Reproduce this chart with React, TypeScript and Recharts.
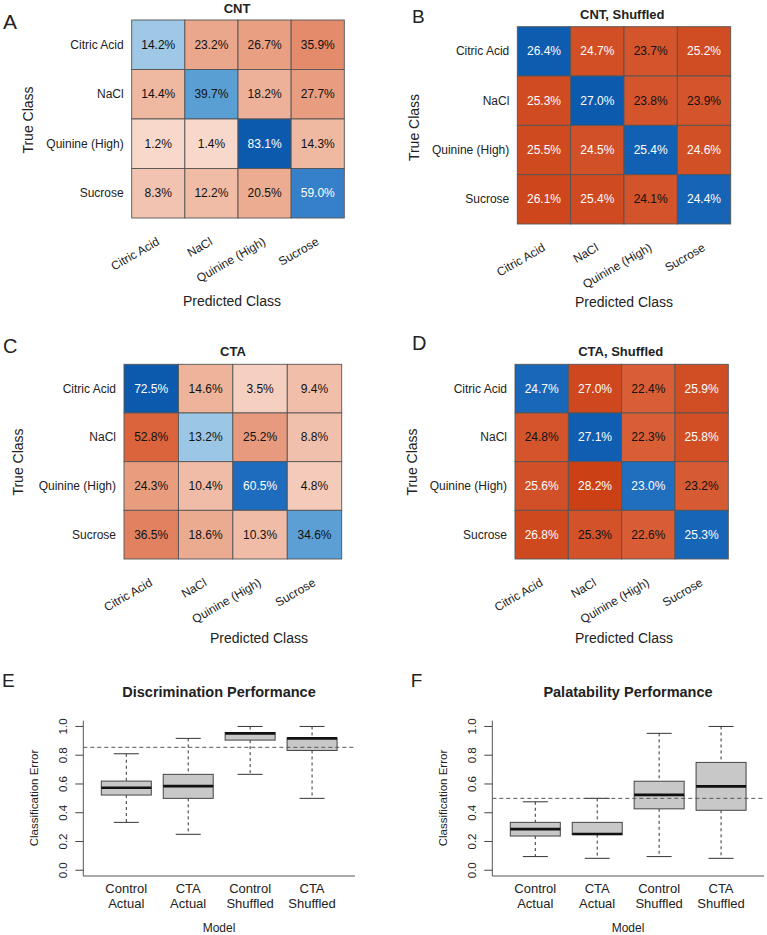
import React from 'react';
import { ScatterChart, Scatter, XAxis, YAxis, ComposedChart, Bar, ReferenceLine } from 'recharts';

const FONT = '"Liberation Sans", Arial, Helvetica, sans-serif';

// confusion matrices, rows = true class, cols = predicted class (%)
const tasteClasses = ['Citric Acid', 'NaCl', 'Quinine (High)', 'Sucrose'];
const cntActual = [
  [14.2, 23.2, 26.7, 35.9],
  [14.4, 39.7, 18.2, 27.7],
  [1.2, 1.4, 83.1, 14.3],
  [8.3, 12.2, 20.5, 59.0],
];
const cntShuffled = [
  [26.4, 24.7, 23.7, 25.2],
  [25.3, 27.0, 23.8, 23.9],
  [25.5, 24.5, 25.4, 24.6],
  [26.1, 25.4, 24.1, 24.4],
];
const ctaActual = [
  [72.5, 14.6, 3.5, 9.4],
  [52.8, 13.2, 25.2, 8.8],
  [24.3, 10.4, 60.5, 4.8],
  [36.5, 18.6, 10.3, 34.6],
];
const ctaShuffled = [
  [24.7, 27.0, 22.4, 25.9],
  [24.8, 27.1, 22.3, 25.8],
  [25.6, 28.2, 23.0, 23.2],
  [26.8, 25.3, 22.6, 25.3],
];

// boxplot summaries (whisker low, q1, median, q3, whisker high)
const models = ['Control Actual', 'CTA Actual', 'Control Shuffled', 'CTA Shuffled'];
const discLow = [0.333, 0.25, 0.667, 0.5];
const discQ1 = [0.523, 0.5, 0.905, 0.833];
const discMed = [0.574, 0.585, 0.952, 0.917];
const discQ3 = [0.62, 0.667, 0.958, 0.92];
const discHigh = [0.81, 0.917, 1.0, 1.0];
const discChance = 0.855;

const palLow = [0.095, 0.083, 0.095, 0.083];
const palQ1 = [0.238, 0.248, 0.427, 0.417];
const palMed = [0.286, 0.252, 0.524, 0.583];
const palQ3 = [0.333, 0.333, 0.619, 0.75];
const palHigh = [0.476, 0.5, 0.952, 1.0];
const palChance = 0.5;

const yTicks = [0, 0.2, 0.4, 0.6, 0.8, 1.0];

// colour ramps (t = value / matrix max)
const redStops: [number, string][] = [
  [0, '#f8dcd0'], [0.1, '#f2c3b0'], [0.28, '#eaa78b'], [0.43, '#e48b6b'],
  [0.73, '#dc643c'], [0.88, '#d4552c'], [1, '#cc4016'],
];
const blueStops: [number, string][] = [
  [0, '#d8e9f6'], [0.17, '#9ec8e6'], [0.48, '#5a9fd4'], [0.71, '#3580c8'],
  [0.83, '#1d6cbd'], [1, '#0c5aae'],
];

const hex = (h: string) => [1, 3, 5].map((i) => parseInt(h.slice(i, i + 2), 16));
const ramp = (stops: [number, string][], t: number) => {
  const tt = Math.max(0, Math.min(1, t));
  for (let i = 1; i < stops.length; i++) {
    if (tt <= stops[i][0]) {
      const [t0, c0] = stops[i - 1];
      const [t1, c1] = stops[i];
      const f = (tt - t0) / (t1 - t0 || 1);
      const a = hex(c0), b = hex(c1);
      return `rgb(${a.map((v, k) => Math.round(v + (b[k] - v) * f)).join(',')})`;
    }
  }
  return stops[stops.length - 1][1];
};

type Box = { x0: number; x1: number; y0: number; y1: number };
type Frame = { left: number; top: number; width: number; height: number };

const Heatmap = ({ values, frame, box }: { values: number[][]; frame: Frame; box: Box }) => {
  const n = tasteClasses.length;
  const max = Math.max(...values.flat());
  const cells = values.flatMap((row, i) =>
    row.map((v, j) => ({ col: j + 0.5, row: i + 0.5, value: v, diag: i === j, t: v / max }))
  );
  const cw = (box.x1 - box.x0) / n;
  const ch = (box.y1 - box.y0) / n;
  const ticks = tasteClasses.map((_, i) => i + 0.5);
  const nameOf = (v: number) => tasteClasses[Math.floor(v)] ?? '';

  const renderCell = (p: any) => {
    const { cx, cy, payload } = p;
    const fill = payload.diag ? ramp(blueStops, payload.t) : ramp(redStops, payload.t);
    const white = payload.diag ? payload.t > 0.6 : payload.t > 0.9;
    return (
      <g>
        <rect x={cx - cw / 2} y={cy - ch / 2} width={cw} height={ch} fill={fill} stroke="#555" strokeWidth={0.9} />
        <text x={cx} y={cy} textAnchor="middle" dominantBaseline="central" fontSize={12} fill={white ? '#fff' : '#111'} fontFamily={FONT}>
          {payload.value.toFixed(1)}%
        </text>
      </g>
    );
  };

  return (
    <div style={{ position: 'absolute', left: frame.left, top: frame.top }}>
      <ScatterChart
        width={frame.width}
        height={frame.height}
        margin={{ top: box.y0 - frame.top, right: frame.left + frame.width - box.x1, bottom: 0, left: 0 }}
      >
        <XAxis
          type="number"
          dataKey="col"
          domain={[0, n]}
          ticks={ticks}
          interval={0}
          axisLine={false}
          tickLine={false}
          tickSize={0}
          tickMargin={0}
          height={frame.top + frame.height - box.y1}
          tick={(p: any) => {
            const x = p.x + 2;
            const y = p.y + 26;
            return (
              <text x={x} y={y} textAnchor="end" fontSize={12} fill="#222" fontFamily={FONT} transform={`rotate(-30 ${x} ${y})`}>
                {nameOf(p.payload.value)}
              </text>
            );
          }}
        />
        <YAxis
          type="number"
          dataKey="row"
          domain={[0, n]}
          reversed
          ticks={ticks}
          interval={0}
          axisLine={false}
          tickLine={false}
          tickSize={0}
          tickMargin={0}
          width={box.x0 - frame.left}
          tick={(p: any) => (
            <text x={p.x - 8} y={p.y} textAnchor="end" dominantBaseline="central" fontSize={12} fill="#222" fontFamily={FONT}>
              {nameOf(p.payload.value)}
            </text>
          )}
        />
        <Scatter data={cells} shape={renderCell} isAnimationActive={false} />
      </ScatterChart>
    </div>
  );
};

const BoxShape = (p: any) => {
  const { x, y, width, height, payload } = p;
  const top = Math.min(y, y + height);
  const bottom = Math.max(y, y + height);
  const py = (v: number) => bottom - ((bottom - top) * (v - payload.low)) / (payload.high - payload.low || 1);
  const cx = x + width / 2;
  const cap = width / 4;
  return (
    <g>
      <line x1={cx} x2={cx} y1={py(payload.high)} y2={py(payload.q3)} stroke="#333" strokeDasharray="3 3" />
      <line x1={cx} x2={cx} y1={py(payload.q1)} y2={py(payload.low)} stroke="#333" strokeDasharray="3 3" />
      <line x1={cx - cap} x2={cx + cap} y1={py(payload.high)} y2={py(payload.high)} stroke="#333" />
      <line x1={cx - cap} x2={cx + cap} y1={py(payload.low)} y2={py(payload.low)} stroke="#333" />
      <rect x={x} y={py(payload.q3)} width={width} height={py(payload.q1) - py(payload.q3)} fill="#c8c8c8" stroke="#444" />
      <line x1={x} x2={x + width} y1={py(payload.med)} y2={py(payload.med)} stroke="#111" strokeWidth={2.6} />
    </g>
  );
};

const BoxPlot = ({ data, chance, frame, box }: { data: any[]; chance: number; frame: Frame; box: Box }) => (
  <div style={{ position: 'absolute', left: frame.left, top: frame.top }}>
    <ComposedChart
      width={frame.width}
      height={frame.height}
      data={data}
      margin={{ top: box.y0 - frame.top, right: frame.left + frame.width - box.x1, bottom: 0, left: 0 }}
    >
      <XAxis
        dataKey="model"
        type="category"
        padding={{ left: 12, right: 12 }}
        interval={0}
        tickLine={false}
        tickSize={0}
        tickMargin={0}
        axisLine={{ stroke: '#555' }}
        height={frame.top + frame.height - box.y1}
        tick={(p: any) => {
          const [a, b] = String(p.payload.value).split(' ');
          return (
            <text x={p.x} y={p.y} textAnchor="middle" fontSize={13} fill="#222" fontFamily={FONT}>
              <tspan x={p.x} dy={16.6}>{a}</tspan>
              <tspan x={p.x} dy={15.6}>{b}</tspan>
            </text>
          );
        }}
      />
      <XAxis xAxisId="top" dataKey="model" orientation="top" height={0} tick={false} tickLine={false} axisLine={{ stroke: '#555' }} />
      <YAxis
        type="number"
        domain={[-0.04, 1.04]}
        ticks={yTicks}
        interval={0}
        allowDataOverflow
        width={box.x0 - frame.left}
        tickSize={8}
        tickMargin={0}
        tickLine={{ stroke: '#444' }}
        axisLine={{ stroke: '#555' }}
        tick={(p: any) => {
          const x = p.x - 8.7;
          return (
            <text x={x} y={p.y} textAnchor="middle" fontSize={11.5} fill="#222" fontFamily={FONT} transform={`rotate(-90 ${x} ${p.y})`}>
              {Number(p.payload.value).toFixed(1)}
            </text>
          );
        }}
      />
      <YAxis yAxisId="right" orientation="right" width={0} tick={false} tickLine={false} axisLine={{ stroke: '#555' }} />
      <Bar dataKey={(d: any) => [d.low, d.high]} barSize={50} shape={BoxShape} isAnimationActive={false} />
      <ReferenceLine y={chance} stroke="#555" strokeDasharray="4 3" />
    </ComposedChart>
  </div>
);

const toRows = (low: number[], q1: number[], med: number[], q3: number[], high: number[]) =>
  models.map((m, i) => ({ model: m, low: low[i], q1: q1[i], med: med[i], q3: q3[i], high: high[i] }));

const App = () => {
  const discData = toRows(discLow, discQ1, discMed, discQ3, discHigh);
  const palData = toRows(palLow, palQ1, palMed, palQ3, palHigh);
  const txt = { fontFamily: FONT, fill: '#222' };
  return (
    <div style={{ position: 'absolute', left: 0, top: 0, width: 767, height: 935, background: '#fff', fontFamily: FONT }}>
      <Heatmap values={cntActual} frame={{ left: 0, top: 0, width: 360, height: 300 }} box={{ x0: 131.7, x1: 344.3, y0: 20, y1: 218 }} />
      <Heatmap values={cntShuffled} frame={{ left: 384, top: 0, width: 383, height: 300 }} box={{ x0: 517.3, x1: 730.7, y0: 26.7, y1: 224 }} />
      <Heatmap values={ctaActual} frame={{ left: 0, top: 320, width: 360, height: 320 }} box={{ x0: 124, x1: 341.7, y0: 364.3, y1: 559 }} />
      <Heatmap values={ctaShuffled} frame={{ left: 384, top: 320, width: 383, height: 320 }} box={{ x0: 515, x1: 728.3, y0: 364.3, y1: 559 }} />
      <BoxPlot data={discData} chance={discChance} frame={{ left: 0, top: 700, width: 370, height: 235 }} box={{ x0: 83.3, x1: 355, y0: 720.7, y1: 876 }} />
      <BoxPlot data={palData} chance={palChance} frame={{ left: 384, top: 700, width: 383, height: 235 }} box={{ x0: 492.3, x1: 764, y0: 720.7, y1: 876 }} />

      <svg width={767} height={935} style={{ position: 'absolute', left: 0, top: 0, pointerEvents: 'none' }}>
        <g {...txt}>
          <text x={3} y={29} fontSize={21}>A</text>
          <text x={412} y={22.7} fontSize={19}>B</text>
          <text x={3} y={353} fontSize={20}>C</text>
          <text x={412} y={350} fontSize={20}>D</text>
          <text x={2} y={687} fontSize={19}>E</text>
          <text x={410.7} y={687} fontSize={19}>F</text>

          <text x={237} y={13.3} fontSize={13} fontWeight="bold" textAnchor="middle">CNT</text>
          <text x={622.3} y={19.3} fontSize={13} fontWeight="bold" textAnchor="middle">CNT, Shuffled</text>
          <text x={233} y={356} fontSize={13} fontWeight="bold" textAnchor="middle">CTA</text>
          <text x={620.7} y={356} fontSize={13} fontWeight="bold" textAnchor="middle">CTA, Shuffled</text>

          <text x={232} y={306} fontSize={14} textAnchor="middle">Predicted Class</text>
          <text x={624} y={307} fontSize={14} textAnchor="middle">Predicted Class</text>
          <text x={259} y={642.7} fontSize={14} textAnchor="middle">Predicted Class</text>
          <text x={624} y={642.7} fontSize={14} textAnchor="middle">Predicted Class</text>

          <text x={33.3} y={120} fontSize={14} textAnchor="middle" transform="rotate(-90 33.3 120)">True Class</text>
          <text x={419} y={127.5} fontSize={14} textAnchor="middle" transform="rotate(-90 419 127.5)">True Class</text>
          <text x={23.3} y={462} fontSize={14} textAnchor="middle" transform="rotate(-90 23.3 462)">True Class</text>
          <text x={417.3} y={462} fontSize={14} textAnchor="middle" transform="rotate(-90 417.3 462)">True Class</text>

          <text x={219} y={696.5} fontSize={14.5} fontWeight="bold" textAnchor="middle">Discrimination Performance</text>
          <text x={628} y={696.5} fontSize={14.5} fontWeight="bold" textAnchor="middle">Palatability Performance</text>
          <text x={38} y={798} fontSize={11.5} textAnchor="middle" transform="rotate(-90 38 798)">Classification Error</text>
          <text x={447.3} y={798} fontSize={11.5} textAnchor="middle" transform="rotate(-90 447.3 798)">Classification Error</text>
          <text x={219} y={931.7} fontSize={12} textAnchor="middle">Model</text>
          <text x={628} y={931.7} fontSize={12} textAnchor="middle">Model</text>
        </g>
      </svg>
    </div>
  );
};

export default App;
